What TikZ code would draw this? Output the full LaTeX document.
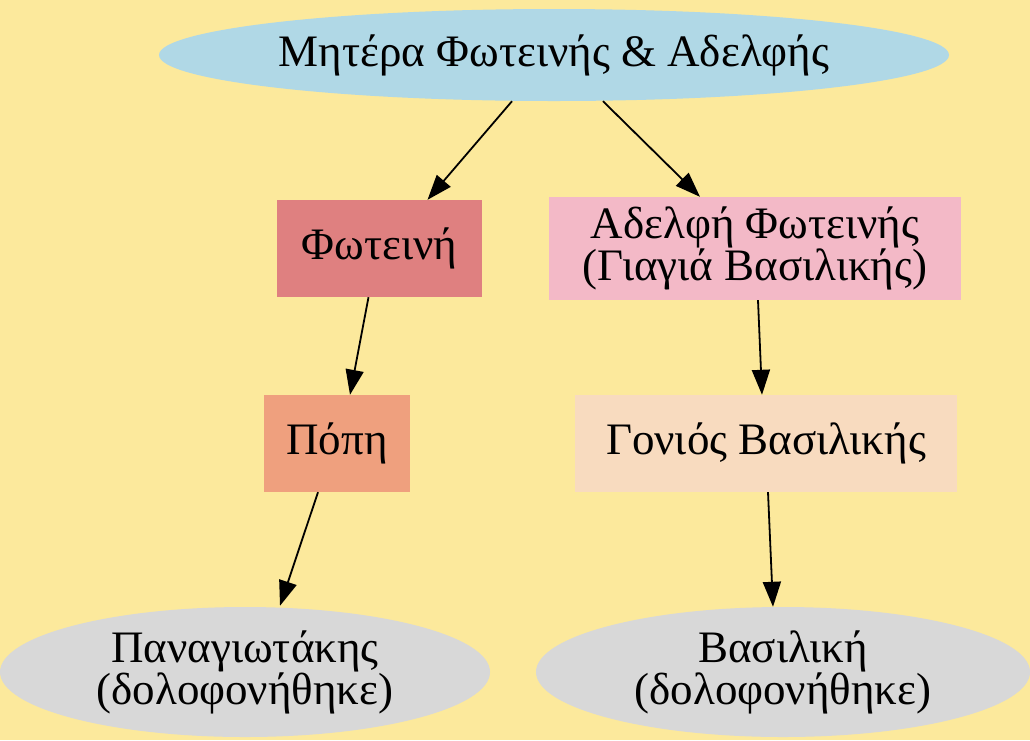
\documentclass[tikz,border=0pt]{standalone}
\usepackage{fontspec}
\setmainfont{Liberation Serif}
\usetikzlibrary{arrows.meta,shapes.geometric}
\definecolor{bgyellow}{HTML}{FCE99C}
\definecolor{motherblue}{HTML}{B0D8E6}
\definecolor{fotinired}{HTML}{DF8080}
\definecolor{adelfipink}{HTML}{F3B9C7}
\definecolor{popisalmon}{HTML}{EFA07E}
\definecolor{goniospeach}{HTML}{F8DBBF}
\definecolor{deadgray}{HTML}{D8D8D8}

\begin{document}
\begin{tikzpicture}[x=1pt,y=-1pt,>={Triangle[length=25pt,width=18pt]},
  every node/.style={font=\fontsize{45}{42}\selectfont,align=center,inner sep=0pt},
  person/.style={rectangle,minimum height=97pt},
  oval/.style={ellipse,minimum height=130pt},
  link/.style={->,line width=1.8pt}]
% background and margins
\fill[bgyellow] (0,0) rectangle (1030,740);
\useasboundingbox (0,0) rectangle (1030,740);

%---------------- top row
\node[oval,fill=motherblue,minimum width=790pt,minimum height=92pt] (mother) at (554,55)
  {Μητέρα Φωτεινής \& Αδελφής};

%---------------- second row
\node[person,fill=fotinired,minimum width=205pt] (fotini) at (379.5,248.5) {Φωτεινή};
\node[person,fill=adelfipink,minimum width=412pt,minimum height=103pt] (adelfi) at (755,248.5)
  {Αδελφή Φωτεινής\\(Γιαγιά Βασιλικής)};

%---------------- third row
\node[person,fill=popisalmon,minimum width=146pt] (popi) at (337,443.5) {Πόπη};
\node[person,fill=goniospeach,minimum width=382pt] (gonios) at (766,443.5) {Γονιός Βασιλικής};

%---------------- bottom row (ellipses)
\node[oval,fill=deadgray,minimum width=490pt] (panag) at (245,672)
  {Παναγιωτάκης\\(δολοφονήθηκε)};
\node[oval,fill=deadgray,minimum width=494pt] (vasiliki) at (783,672)
  {Βασιλική\\(δολοφονήθηκε)};

% arrows
\draw[link] ([xshift=-42pt]mother.south) -- ([xshift=48pt]fotini.north);
\draw[link] ([xshift=49pt]mother.south) -- ([xshift=-55pt]adelfi.north);
\draw[link] ([xshift=-11pt]fotini.south) -- ([xshift=13pt]popi.north);
\draw[link] ([xshift=3pt]adelfi.south) -- ([xshift=-4pt]gonios.north);
\draw[link] ([xshift=-19pt]popi.south) -- ([xshift=35pt,yshift=1pt]panag.north);
\draw[link] ([xshift=2pt]gonios.south) -- ([xshift=-10pt]vasiliki.north);
\end{tikzpicture}
\end{document}
